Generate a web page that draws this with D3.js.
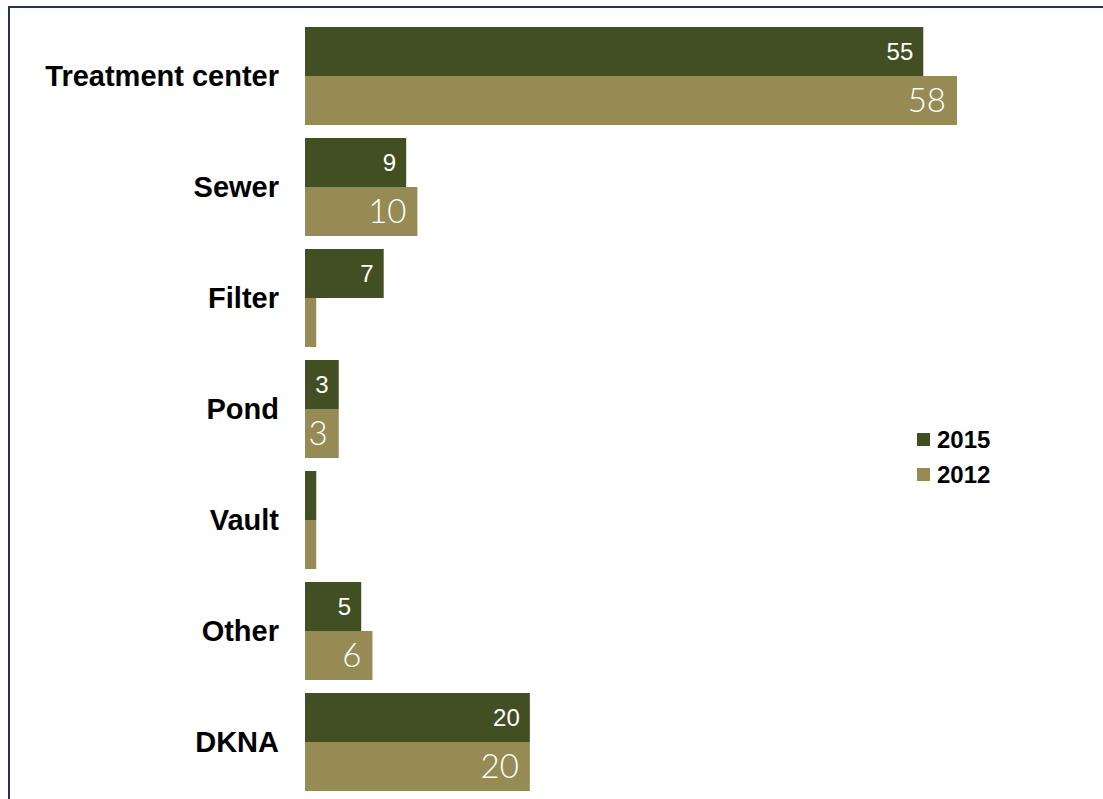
<!DOCTYPE html>
<html>
<head>
<meta charset="utf-8">
<script src="https://cdn.jsdelivr.net/npm/d3@7"></script>
<style>
  html, body { margin: 0; padding: 0; background: #fff; }
  svg { display: block; }
</style>
</head>
<body>
<svg id="chart" width="1103" height="799"></svg>
<script>
// Places named as the destination, by survey year
const categories = ["Treatment center", "Sewer", "Filter", "Pond", "Vault", "Other", "DKNA"];
const seriesNames = ["2015", "2012"];
const values2015 = [55, 9, 7, 3, 1, 5, 20];
const values2012 = [58, 10, 1, 3, 1, 6, 20];
const seriesColors = ["#414f22", "#978b55"];

const svg = d3.select("#chart");

// Frame around the chart (runs off the right and bottom edges)
svg.append("path")
  .attr("d", "M9,805 L9,7 L1110,7")
  .attr("fill", "none")
  .attr("stroke", "#1f3556")
  .attr("stroke-width", 2);

const x = d3.scaleLinear().domain([0, 58]).range([305, 957]);
const y = d3.scaleBand().domain(categories).range([27, 791]).paddingInner(13 / 111).paddingOuter(0);
const ySub = d3.scaleBand().domain(seriesNames).range([0, y.bandwidth()]);
const color = d3.scaleOrdinal().domain(seriesNames).range(seriesColors);

const rows = categories.map((c, i) => ({
  category: c,
  bars: [
    { series: "2015", value: values2015[i] },
    { series: "2012", value: values2012[i] }
  ]
}));

const groups = svg.append("g").selectAll("g")
  .data(rows)
  .join("g")
  .attr("transform", d => `translate(0,${y(d.category)})`);

groups.selectAll("rect")
  .data(d => d.bars)
  .join("rect")
  .attr("x", x(0))
  .attr("y", d => ySub(d.series))
  .attr("width", d => x(d.value) - x(0))
  .attr("height", ySub.bandwidth())
  .attr("fill", d => color(d.series));

// Value labels inside the bar ends (too narrow for the smallest bars)
groups.selectAll("text.value")
  .data(d => d.bars.filter(b => b.value >= 3))
  .join("text")
  .attr("class", "value")
  .attr("x", d => x(d.value) - (d.series === "2015" ? 10 : 11))
  .attr("y", d => ySub(d.series) + ySub.bandwidth() / 2)
  .attr("dy", "0.36em")
  .attr("text-anchor", "end")
  .attr("fill", "#fff")
  .style("font-family", d => d.series === "2015" ? "'Liberation Sans', Arial, sans-serif" : "Lato, 'Open Sans', sans-serif")
  .style("font-size", d => d.series === "2015" ? "24px" : "33px")
  .style("font-weight", d => d.series === "2015" ? "400" : "300")
  .text(d => d.value);

// Category labels
svg.append("g").selectAll("text")
  .data(categories)
  .join("text")
  .attr("x", 279)
  .attr("y", d => y(d) + y.bandwidth() / 2)
  .attr("dy", "0.36em")
  .attr("text-anchor", "end")
  .style("font-family", "'Liberation Sans', Arial, sans-serif")
  .style("font-weight", "700")
  .style("font-size", "29px")
  .attr("fill", "#000")
  .text(d => d);

// Legend
const legend = svg.append("g").attr("transform", "translate(917,433)");
const items = legend.selectAll("g")
  .data(seriesNames)
  .join("g")
  .attr("transform", (d, i) => `translate(0,${i * 35})`);
items.append("rect")
  .attr("width", 13).attr("height", 13)
  .attr("fill", d => color(d));
items.append("text")
  .attr("x", 20)
  .attr("y", 6.5)
  .attr("dy", "0.36em")
  .style("font-family", "'Liberation Sans', Arial, sans-serif")
  .style("font-weight", "700")
  .style("font-size", "24px")
  .attr("fill", "#000")
  .text(d => d);
</script>
</body>
</html>
